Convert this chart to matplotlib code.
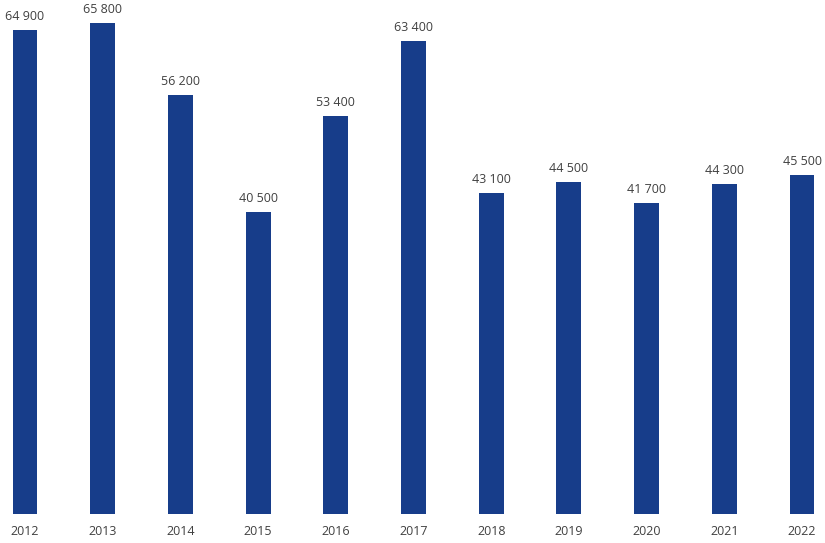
import matplotlib
matplotlib.use("Agg")
import matplotlib.pyplot as plt

years = ["2012", "2013", "2014", "2015", "2016", "2017", "2018", "2019", "2020", "2021", "2022"]
values = [64900, 65800, 56200, 40500, 53400, 63400, 43100, 44500, 41700, 44300, 45500]
labels = ["64 900", "65 800", "56 200", "40 500", "53 400", "63 400", "43 100", "44 500", "41 700", "44 300", "45 500"]

plt.rcParams['font.family'] = ['Open Sans', 'DejaVu Sans']

fig = plt.figure(figsize=(8.25, 5.43), dpi=100)
ax = fig.add_axes([0, 29/543, 1, 514/543])
x = list(range(len(years)))
bars = ax.bar(x, values, width=0.32, color="#173d8a")
for xi, v, lab in zip(x, values, labels):
    ax.annotate(lab, (xi, v), xytext=(0, 5), textcoords="offset points",
                ha="center", va="bottom", fontsize=9, color="#404040")
ax.set_xlim(-0.322, 10.296)
ax.set_ylim(0, 68930)
ax.set_xticks(x)
ax.set_xticklabels(years, fontsize=9, color="#404040")
ax.tick_params(axis="x", length=0, pad=8)
ax.set_yticks([])
for s in ax.spines.values():
    s.set_visible(False)
fig.savefig("out.png", dpi=100)
